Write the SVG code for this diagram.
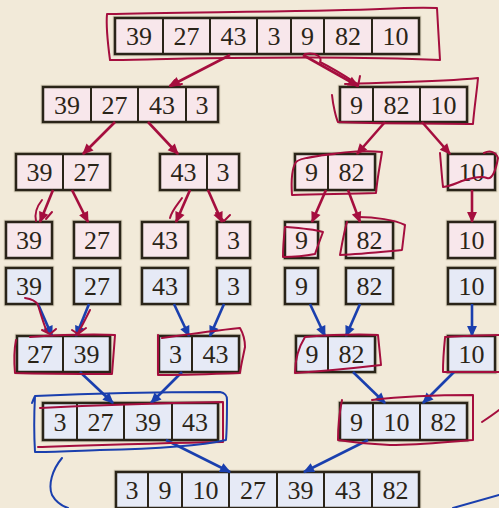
<svg xmlns="http://www.w3.org/2000/svg" width="499" height="508" viewBox="0 0 499 508">
<style>
.bg{fill:#F2EAD9}
.p{fill:#F8E7EB}
.b{fill:#E6EAF6}
.box{fill:none;stroke:#2A2418;stroke-width:2.5}
.halo{fill:none;stroke:#B9B09A;stroke-width:4.5;opacity:0.6}
.dv{stroke:#2A2418;stroke-width:2}
text{font-family:"Liberation Serif","DejaVu Serif",serif;font-size:26px;fill:#2A2418;text-anchor:middle}
.ar{stroke:#A50E3E;stroke-width:2.6;fill:none;marker-end:url(#mr)}
.ab{stroke:#1A3FAE;stroke-width:2.6;fill:none;marker-end:url(#mb)}
.hr{stroke:#A50E3E;stroke-width:2;fill:none;stroke-linecap:round;stroke-linejoin:round}
.hb{stroke:#1A3FAE;stroke-width:2;fill:none;stroke-linecap:round;stroke-linejoin:round}
</style>
<defs>
<marker id="mr" viewBox="0 0 10 10" refX="9" refY="5" markerWidth="12" markerHeight="11" markerUnits="userSpaceOnUse" orient="auto"><path d="M0,0.5 L10,5 L0,9.5 Z" fill="#A50E3E"/></marker>
<marker id="mb" viewBox="0 0 10 10" refX="9" refY="5" markerWidth="12" markerHeight="11" markerUnits="userSpaceOnUse" orient="auto"><path d="M0,0.5 L10,5 L0,9.5 Z" fill="#1A3FAE"/></marker>
</defs>
<rect class="bg" x="0" y="0" width="499" height="508"/>

<g id="l1">
<rect class="halo" x="115" y="18" width="304" height="36"/>
<rect class="p" x="115" y="18" width="304" height="36"/>
<path class="dv" d="M163,18V54M210,18V54M257,18V54M291,18V54M324,18V54M372,18V54"/>
<rect class="box" x="115" y="18" width="304" height="36"/>
<text x="139" y="45">39</text><text x="186.5" y="45">27</text><text x="233.5" y="45">43</text><text x="274" y="45">3</text><text x="307.5" y="45">9</text><text x="348" y="45">82</text><text x="395.5" y="45">10</text>
</g>

<g id="l2a">
<rect class="halo" x="43" y="87" width="175" height="35"/>
<rect class="p" x="43" y="87" width="175" height="35"/>
<path class="dv" d="M91,87V122M138,87V122M186,87V122"/>
<rect class="box" x="43" y="87" width="175" height="35"/>
<text x="67" y="114">39</text><text x="114.5" y="114">27</text><text x="162" y="114">43</text><text x="202" y="114">3</text>
</g>
<g id="l2b">
<rect class="halo" x="340" y="87" width="127" height="35"/>
<rect class="p" x="340" y="87" width="127" height="35"/>
<path class="dv" d="M373,87V122M420,87V122"/>
<rect class="box" x="340" y="87" width="127" height="35"/>
<text x="356.5" y="114">9</text><text x="396.5" y="114">82</text><text x="443.5" y="114">10</text>
</g>

<g id="l3a">
<rect class="halo" x="16" y="154" width="94" height="36"/>
<rect class="p" x="16" y="154" width="94" height="36"/>
<path class="dv" d="M63,154V190"/>
<rect class="box" x="16" y="154" width="94" height="36"/>
<text x="39.5" y="181">39</text><text x="86.5" y="181">27</text>
</g>
<g id="l3b">
<rect class="halo" x="160" y="154" width="79" height="36"/>
<rect class="p" x="160" y="154" width="79" height="36"/>
<path class="dv" d="M207,154V190"/>
<rect class="box" x="160" y="154" width="79" height="36"/>
<text x="183.5" y="181">43</text><text x="223" y="181">3</text>
</g>
<g id="l3c">
<rect class="halo" x="295" y="154" width="80" height="36"/>
<rect class="p" x="295" y="154" width="80" height="36"/>
<path class="dv" d="M328,154V190"/>
<rect class="box" x="295" y="154" width="80" height="36"/>
<text x="311.5" y="181">9</text><text x="351.5" y="181">82</text>
</g>
<g id="l3d">
<rect class="halo" x="448" y="154" width="47" height="36"/>
<rect class="p" x="448" y="154" width="47" height="36"/>
<rect class="box" x="448" y="154" width="47" height="36"/>
<text x="471.5" y="181">10</text>
</g>

<g id="l4a"><rect class="halo" x="6" y="222" width="46" height="36"/><rect class="p" x="6" y="222" width="46" height="36"/><rect class="box" x="6" y="222" width="46" height="36"/><text x="29" y="249">39</text></g>
<g id="l4b"><rect class="halo" x="74" y="222" width="46" height="36"/><rect class="p" x="74" y="222" width="46" height="36"/><rect class="box" x="74" y="222" width="46" height="36"/><text x="97" y="249">27</text></g>
<g id="l4c"><rect class="halo" x="142" y="222" width="46" height="36"/><rect class="p" x="142" y="222" width="46" height="36"/><rect class="box" x="142" y="222" width="46" height="36"/><text x="165" y="249">43</text></g>
<g id="l4d"><rect class="halo" x="217" y="222" width="33" height="36"/><rect class="p" x="217" y="222" width="33" height="36"/><rect class="box" x="217" y="222" width="33" height="36"/><text x="233.5" y="249">3</text></g>
<g id="l4e"><rect class="halo" x="285" y="222" width="33" height="36"/><rect class="p" x="285" y="222" width="33" height="36"/><rect class="box" x="285" y="222" width="33" height="36"/><text x="301.5" y="249">9</text></g>
<g id="l4f"><rect class="halo" x="346" y="222" width="47" height="36"/><rect class="p" x="346" y="222" width="47" height="36"/><rect class="box" x="346" y="222" width="47" height="36"/><text x="369.5" y="249">82</text></g>
<g id="l4g"><rect class="halo" x="448" y="222" width="47" height="36"/><rect class="p" x="448" y="222" width="47" height="36"/><rect class="box" x="448" y="222" width="47" height="36"/><text x="471.5" y="249">10</text></g>

<g id="l5a"><rect class="halo" x="6" y="268" width="46" height="36"/><rect class="b" x="6" y="268" width="46" height="36"/><rect class="box" x="6" y="268" width="46" height="36"/><text x="29" y="295">39</text></g>
<g id="l5b"><rect class="halo" x="74" y="268" width="46" height="36"/><rect class="b" x="74" y="268" width="46" height="36"/><rect class="box" x="74" y="268" width="46" height="36"/><text x="97" y="295">27</text></g>
<g id="l5c"><rect class="halo" x="142" y="268" width="46" height="36"/><rect class="b" x="142" y="268" width="46" height="36"/><rect class="box" x="142" y="268" width="46" height="36"/><text x="165" y="295">43</text></g>
<g id="l5d"><rect class="halo" x="217" y="268" width="33" height="36"/><rect class="b" x="217" y="268" width="33" height="36"/><rect class="box" x="217" y="268" width="33" height="36"/><text x="233.5" y="295">3</text></g>
<g id="l5e"><rect class="halo" x="285" y="268" width="33" height="36"/><rect class="b" x="285" y="268" width="33" height="36"/><rect class="box" x="285" y="268" width="33" height="36"/><text x="301.5" y="295">9</text></g>
<g id="l5f"><rect class="halo" x="346" y="268" width="47" height="36"/><rect class="b" x="346" y="268" width="47" height="36"/><rect class="box" x="346" y="268" width="47" height="36"/><text x="369.5" y="295">82</text></g>
<g id="l5g"><rect class="halo" x="448" y="268" width="47" height="36"/><rect class="b" x="448" y="268" width="47" height="36"/><rect class="box" x="448" y="268" width="47" height="36"/><text x="471.5" y="295">10</text></g>

<g id="l6a">
<rect class="halo" x="17" y="336" width="93" height="36"/>
<rect class="b" x="17" y="336" width="93" height="36"/>
<path class="dv" d="M63,336V372"/>
<rect class="box" x="17" y="336" width="93" height="36"/>
<text x="40" y="363">27</text><text x="86.5" y="363">39</text>
</g>
<g id="l6b">
<rect class="halo" x="159" y="336" width="80" height="36"/>
<rect class="b" x="159" y="336" width="80" height="36"/>
<path class="dv" d="M192,336V372"/>
<rect class="box" x="159" y="336" width="80" height="36"/>
<text x="175.5" y="363">3</text><text x="215.5" y="363">43</text>
</g>
<g id="l6c">
<rect class="halo" x="296" y="336" width="79" height="36"/>
<rect class="b" x="296" y="336" width="79" height="36"/>
<path class="dv" d="M328,336V372"/>
<rect class="box" x="296" y="336" width="79" height="36"/>
<text x="312" y="363">9</text><text x="351.5" y="363">82</text>
</g>
<g id="l6d">
<rect class="halo" x="448" y="336" width="47" height="36"/>
<rect class="b" x="448" y="336" width="47" height="36"/>
<rect class="box" x="448" y="336" width="47" height="36"/>
<text x="471.5" y="363">10</text>
</g>

<g id="l7a">
<rect class="halo" x="43" y="403" width="175" height="37"/>
<rect class="b" x="43" y="403" width="175" height="37"/>
<path class="dv" d="M77,403V440M124,403V440M172,403V440"/>
<rect class="box" x="43" y="403" width="175" height="37"/>
<text x="60" y="431">3</text><text x="100.5" y="431">27</text><text x="148" y="431">39</text><text x="195" y="431">43</text>
</g>
<g id="l7b">
<rect class="halo" x="340" y="403" width="127" height="37"/>
<rect class="b" x="340" y="403" width="127" height="37"/>
<path class="dv" d="M373,403V440M420,403V440"/>
<rect class="box" x="340" y="403" width="127" height="37"/>
<text x="356.5" y="431">9</text><text x="396.5" y="431">10</text><text x="443.5" y="431">82</text>
</g>

<g id="l8">
<rect class="halo" x="116" y="472" width="303" height="36"/>
<rect class="b" x="116" y="472" width="303" height="36"/>
<path class="dv" d="M148,472V508M182,472V508M229,472V508M277,472V508M324,472V508M372,472V508"/>
<rect class="box" x="116" y="472" width="303" height="36"/>
<text x="132" y="499">3</text><text x="165" y="499">9</text><text x="205.5" y="499">10</text><text x="253" y="499">27</text><text x="300.5" y="499">39</text><text x="348" y="499">43</text><text x="395.5" y="499">82</text>
</g>

<g id="connectors">
<path class="ar" d="M230,55L170,86"/>
<path class="ar" d="M303,55L358,86"/>
<path class="ar" d="M115,122L83,154"/>
<path class="ar" d="M148,122L178,154"/>
<path class="ar" d="M385,122L357,154"/>
<path class="ar" d="M422,122L450,154"/>
<path class="ar" d="M53,190L40,222"/>
<path class="ar" d="M72,190L88,222"/>
<path class="ar" d="M190,190L176,222"/>
<path class="ar" d="M208,190L222,222"/>
<path class="ar" d="M326,190L312,222"/>
<path class="ar" d="M348,190L360,222"/>
<path class="ar" d="M472,190L472,222"/>
<path class="ab" d="M38,304L52,336"/>
<path class="ab" d="M89,304L76,336"/>
<path class="ab" d="M174,304L189,336"/>
<path class="ab" d="M224,304L210,336"/>
<path class="ab" d="M310,304L325,336"/>
<path class="ab" d="M360,304L346,336"/>
<path class="ab" d="M472,304L472,336"/>
<path class="ab" d="M80,372L113,403"/>
<path class="ab" d="M182,372L151,403"/>
<path class="ab" d="M353,372L385,403"/>
<path class="ab" d="M454,372L423,403"/>
<path class="ab" d="M166,440L230,472"/>
<path class="ab" d="M368,440L304,472"/>
</g>

<g id="annotations">
<path class="hr" d="M110,60C108,45 106,25 107,14C180,12 300,12 380,9C400,8 420,7 437,8C438,25 439,45 440,60C380,57 300,57 230,58C180,58 140,60 110,60"/>
<path class="hr" d="M305,54C318,52 322,58 320,62C332,68 345,76 356,83M348,80L358,86L360,76"/>
<path class="hr" d="M175,80L170,86L182,84"/>
<path class="hr" d="M332,95C333,105 336,118 338,122C380,124 430,123 473,124C474,110 477,90 478,78C440,82 390,82 345,84"/>
<path class="hr" d="M307,158C330,153 360,150 382,152C380,165 377,180 376,193C350,194 320,194 292,195C291,180 292,168 296,162C300,158 320,155 335,154"/>
<path class="hr" d="M440,153C441,165 442,178 443,187C452,186 458,182 465,180C475,177 482,176 487,178C492,180 496,170 498,158C496,152 490,150 484,153"/>
<path class="hr" d="M285,227C298,228 312,229 323,232C320,240 317,248 315,254C305,256 293,257 283,257C283,247 284,236 285,227"/>
<path class="hr" d="M358,217C375,217 395,220 405,225C404,233 403,242 402,250C380,252 360,254 340,255C342,244 344,232 347,222"/>
<path class="hr" d="M36,221C34,212 38,205 42,200M46,219L52,212"/>
<path class="hr" d="M216,213L224,221L230,215"/>
<path class="hr" d="M170,218C172,210 178,204 182,198"/>
<path class="hr" d="M30,337C60,335 90,334 115,335C114,348 113,362 112,374C80,374 45,374 15,373C14,362 14,350 16,340"/>
<path class="hr" d="M25,298C32,299 36,301 38,305C41,315 44,325 47,332M42,330L50,334L56,329"/>
<path class="hr" d="M90,310C86,318 82,326 78,333M72,330L78,334L86,328"/>
<path class="hr" d="M162,338C190,334 220,330 240,328C244,335 245,342 245,347C243,357 241,365 240,373C210,374 185,375 158,375C158,362 158,348 158,335"/>
<path class="hr" d="M305,337C330,335 355,334 378,335C379,345 380,355 381,365C355,368 325,371 295,373C295,362 297,350 305,337"/>
<path class="hr" d="M445,337C465,336 485,335 499,335M499,372C480,372 460,372 443,372C443,360 444,348 445,338"/>
<path class="hr" d="M40,408C100,405 170,403 223,402C223,415 223,430 223,442C160,443 100,445 38,447"/>
<path class="hb" d="M32,403C33,400 34,398 35,396C100,393 170,392 220,392C226,393 227,396 227,400C227,415 227,428 226,440C200,446 150,449 100,450C70,451 50,452 35,452C34,435 34,415 35,396"/>
<path class="hr" d="M372,400C405,396 440,395 473,395C473,410 473,425 473,440C445,442 420,445 390,445C370,444 350,442 338,440C338,425 340,410 342,400"/>
<path class="hb" d="M62,458C52,470 48,485 52,495C56,502 62,506 68,508"/>
<path class="hb" d="M453,508L499,495"/>
<path class="hr" d="M482,422C488,418 494,414 499,410"/>
</g>
</svg>
